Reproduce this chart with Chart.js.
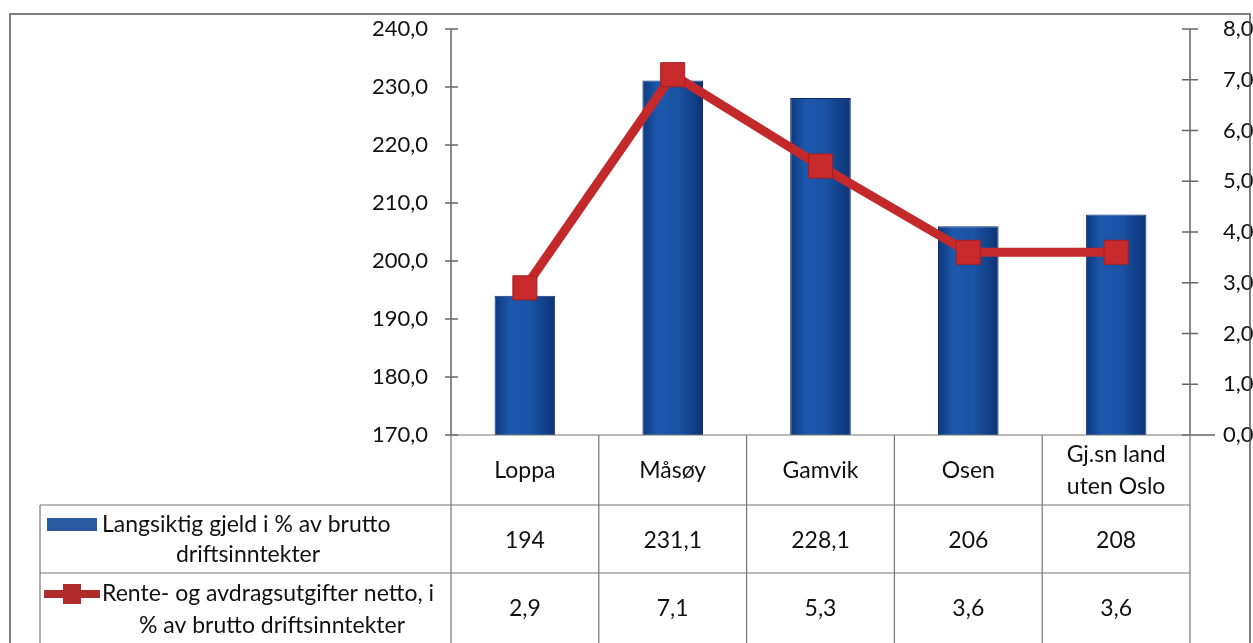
<!DOCTYPE html>
<html>
<head>
<meta charset="utf-8">
<script src="https://cdn.jsdelivr.net/npm/chart.js@4.4.1/dist/chart.umd.min.js"></script>
<style>
  html, body { margin: 0; padding: 0; background: #fff; }
  #wrap { width: 1253px; height: 643px; position: relative; }
</style>
</head>
<body>
<div id="wrap"><canvas id="chart" width="1253" height="643"></canvas></div>
<script>
const categories = ["Loppa", "Måsøy", "Gamvik", "Osen", ["Gj.sn land", "uten Oslo"]];
const gjeld = [194, 231.1, 228.1, 206, 208];
const rente = [2.9, 7.1, 5.3, 3.6, 3.6];
const gjeldLabels = ["194", "231,1", "228,1", "206", "208"];
const renteLabels = ["2,9", "7,1", "5,3", "3,6", "3,6"];
const legendGjeld = ["Langsiktig gjeld i % av brutto", "driftsinntekter"];
const legendRente = ["Rente- og avdragsutgifter netto, i", "% av brutto driftsinntekter"];

const FONT = "Lato, 'Liberation Sans', sans-serif";
const TXT = "#111";
const fmt = v => v.toFixed(1).replace(".", ",");

const tablePlugin = {
  id: "tablePlugin",
  afterDraw(chart) {
    const ctx = chart.ctx;
    const area = chart.chartArea;
    const xs = chart.scales.x;
    const yl = chart.scales.y;
    const yr = chart.scales.y1;
    const n = categories.length;
    const colW = (area.right - area.left) / n;
    const top = area.bottom;
    const r1 = top + 70, r2 = r1 + 68, bottom = 643;
    const legL = 40;

    ctx.save();
    // outer border
    ctx.strokeStyle = "#555";
    ctx.lineWidth = 1.5;
    ctx.beginPath();
    ctx.moveTo(10, 643); ctx.lineTo(10, 14); ctx.lineTo(1250, 14); ctx.lineTo(1250, 643);
    ctx.stroke();

    // axis lines & ticks
    ctx.strokeStyle = "#666";
    ctx.lineWidth = 1.5;
    ctx.beginPath();
    ctx.moveTo(area.left, area.top); ctx.lineTo(area.left, top);
    ctx.moveTo(area.right, area.top); ctx.lineTo(area.right, top);
    yl.ticks.forEach(t => {
      const y = yl.getPixelForValue(t.value);
      ctx.moveTo(area.left - 6, y); ctx.lineTo(area.left + 7, y);
    });
    yr.ticks.forEach(t => {
      const y = yr.getPixelForValue(t.value);
      ctx.moveTo(area.right - 8, y); ctx.lineTo(area.right + 8, y);
    });
    ctx.moveTo(area.right, top); ctx.lineTo(area.right + 25, top);
    ctx.stroke();

    // table grid
    ctx.strokeStyle = "#777";
    ctx.lineWidth = 1.2;
    ctx.beginPath();
    ctx.moveTo(area.left, top); ctx.lineTo(area.right, top);
    ctx.moveTo(legL, r1); ctx.lineTo(area.right, r1);
    ctx.moveTo(legL, r2); ctx.lineTo(area.right, r2);
    ctx.moveTo(legL, r1); ctx.lineTo(legL, bottom);
    for (let i = 0; i <= n; i++) {
      const x = area.left + i * colW;
      ctx.moveTo(x, top); ctx.lineTo(x, bottom);
    }
    ctx.stroke();

    // cell text
    ctx.fillStyle = TXT;
    ctx.font = "23px " + FONT;
    ctx.textAlign = "center";
    ctx.textBaseline = "middle";
    for (let i = 0; i < n; i++) {
      const cx = xs.getPixelForValue(i);
      const lab = categories[i];
      if (Array.isArray(lab)) {
        ctx.fillText(lab[0], cx, top + 20);
        ctx.fillText(lab[1], cx, top + 52);
      } else {
        ctx.fillText(lab, cx, top + 36);
      }
      ctx.fillText(gjeldLabels[i], cx, r1 + 36);
      ctx.fillText(renteLabels[i], cx, r2 + 36);
    }

    // legend cells
    ctx.fillStyle = "#2a5aa0";
    ctx.fillRect(47, r1 + 13, 50, 13);
    ctx.strokeStyle = "#b02a2a";
    ctx.lineWidth = 8;
    ctx.beginPath(); ctx.moveTo(44, r2 + 21); ctx.lineTo(100, r2 + 21); ctx.stroke();
    ctx.fillStyle = "#b02a2a";
    ctx.fillRect(63, r2 + 11, 18, 20);

    ctx.fillStyle = TXT;
    ctx.textAlign = "left";
    ctx.fillText(legendGjeld[0], 102, r1 + 20);
    ctx.fillText(legendRente[0], 102, r2 + 21);
    ctx.textAlign = "center";
    ctx.fillText(legendGjeld[1], 248, r1 + 50);
    ctx.fillText(legendRente[1], 272, r2 + 53);
    ctx.restore();
  }
};

const canvas = document.getElementById("chart");

function barGradient(context) {
  const chart = context.chart;
  const area = chart.chartArea;
  const xs = chart.scales.x;
  if (!area || !xs || context.dataIndex === undefined) return "#1b4f9c";
  const cx = xs.getPixelForValue(context.dataIndex);
  const w = (area.right - area.left) / categories.length * 0.41;
  if (!isFinite(cx) || !isFinite(w)) return "#1b4f9c";
  const g = chart.ctx.createLinearGradient(cx - w / 2, 0, cx + w / 2, 0);
  g.addColorStop(0, "#0d3a7e");
  g.addColorStop(0.25, "#1d58ad");
  g.addColorStop(0.6, "#1a52a4");
  g.addColorStop(1, "#0b3374");
  return g;
}

function fitAxis(width) {
  return s => {
    s.width = width;
    s.paddingTop = 0;
    s.paddingBottom = 0;
  };
}

new Chart(canvas, {
  data: {
    labels: categories,
    datasets: [
      {
        type: "line",
        label: legendRente.join(" "),
        data: rente,
        yAxisID: "y1",
        borderColor: "#c3282a",
        borderWidth: 9,
        backgroundColor: "#c8292b",
        pointStyle: "rect",
        pointRadius: 17,
        pointHoverRadius: 17,
        pointBorderColor: "#a81e20",
        pointBorderWidth: 1,
        tension: 0,
        order: 0
      },
      {
        type: "bar",
        label: legendGjeld.join(" "),
        data: gjeld,
        yAxisID: "y",
        backgroundColor: barGradient,
        borderColor: "#0a2f6c",
        borderWidth: 1,
        barPercentage: 0.41,
        categoryPercentage: 1,
        base: 170,
        order: 1
      }
    ]
  },
  options: {
    responsive: false,
    animation: false,
    layout: { padding: { left: 10, right: 0, top: 29, bottom: 208 } },
    plugins: {
      legend: { display: false },
      tooltip: { enabled: false }
    },
    scales: {
      x: { display: false, offset: true },
      y: {
        position: "left",
        min: 170, max: 240,
        border: { display: false },
        grid: { display: false },
        ticks: {
          stepSize: 10, padding: 15, color: TXT,
          font: { family: FONT, size: 22 },
          callback: v => fmt(v)
        },
        afterFit: fitAxis(441)
      },
      y1: {
        position: "right",
        min: 0, max: 8,
        border: { display: false },
        grid: { display: false },
        ticks: {
          stepSize: 1, padding: 25, color: TXT,
          font: { family: FONT, size: 22 },
          callback: v => fmt(v)
        },
        afterFit: fitAxis(63)
      }
    }
  },
  plugins: [tablePlugin]
});
</script>
</body>
</html>
